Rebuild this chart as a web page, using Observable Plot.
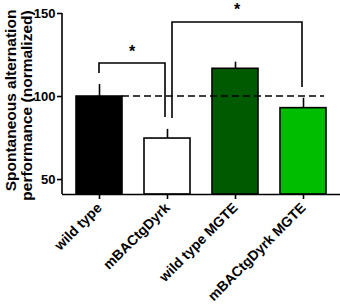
<!DOCTYPE html>
<html><head><meta charset="utf-8">
<script src="https://cdn.jsdelivr.net/npm/d3@7"></script>
<script src="https://cdn.jsdelivr.net/npm/@observablehq/plot@0.6"></script>
<style>body{margin:0;background:#fff;} #chart svg{display:block;}</style>
</head><body><div id="chart"></div>
<script>
const categories = ["wild type", "mBACtgDyrk", "wild type MGTE", "mBACtgDyrk MGTE"];
const means = [100, 74.7, 116.7, 93.0];
const errors = [7.2, 5.5, 4.0, 6.0];
const colors = ["#000000", "#ffffff", "#005a00", "#00bd00"];
const yDomain = [41, 150];
const yTicks = [50, 100, 150];
const referenceLevel = 100;
const yLabelLines = ["Spontaneous alternation", "performance (normalized)"];
const bracketFrom = ["wild type", "mBACtgDyrk"];
const bracketTo = ["mBACtgDyrk", "mBACtgDyrk MGTE"];
const bracketStart = [113.9, 86.8];
const bracketTop = [119.9, 144.6];
const bracketEnd = [87.4, 105.5];
const starLevel = [128.9, 154.3];
const starText = ["*", "*"];

const data = categories.map((c, i) => ({cat: c, mean: means[i], err: errors[i]}));
const brackets = bracketFrom.map((f, i) => ({from: f, to: bracketTo[i], yFrom: bracketStart[i], yTop: bracketTop[i], yTo: bracketEnd[i], starY: starLevel[i], star: starText[i]}));

const FONT = "'Liberation Sans', Arial, sans-serif";
const LW = 1.6;

function annotations(index, scales, values, dim) {
  const x = scales.x, y = scales.y;
  const bw = typeof x.bandwidth === "function" ? x.bandwidth() : x.bandwidth;
  const cx = c => x(c) + bw / 2;
  const nudge = [[0, -2], [5, -1]];
  const g = d3.create("svg:g");
  g.append("line")
    .attr("x1", dim.marginLeft).attr("x2", dim.marginLeft)
    .attr("y1", y(yDomain[1])).attr("y2", y(yDomain[0]))
    .attr("stroke", "black").attr("stroke-width", LW);
  g.append("line")
    .attr("x1", x(categories[0]) + bw).attr("x2", x(categories[categories.length - 1]) + bw - 2)
    .attr("y1", y(referenceLevel)).attr("y2", y(referenceLevel))
    .attr("stroke", "black").attr("stroke-width", LW).attr("stroke-dasharray", "7,4");
  brackets.forEach((b, i) => {
    const x1 = cx(b.from) + nudge[i][0], x2 = cx(b.to) + nudge[i][1];
    g.append("path")
      .attr("d", `M${x1},${y(b.yFrom)}V${y(b.yTop)}H${x2}V${y(b.yTo)}`)
      .attr("fill", "none").attr("stroke", "black").attr("stroke-width", LW);
    g.append("text")
      .attr("x", (x1 + x2) / 2).attr("y", y(b.starY)).attr("dy", "0.58em")
      .attr("text-anchor", "middle").attr("font-size", 16).attr("font-weight", "bold")
      .attr("font-family", FONT).attr("fill", "black")
      .text(b.star);
  });
  return g.node();
}

const chart = Plot.plot({
  width: 340,
  height: 304,
  marginLeft: 62,
  marginRight: 0,
  marginTop: 13,
  marginBottom: 110,
  style: {fontFamily: FONT, fontWeight: "bold", fontSize: "13px", background: "white", color: "black"},
  x: {domain: categories, paddingInner: 0.327, paddingOuter: 0.2, label: null},
  y: {domain: yDomain, label: null},
  color: {domain: categories, range: colors},
  marks: [
    Plot.barY(data, {x: "cat", y1: yDomain[0], y2: "mean", fill: "cat", stroke: "black", strokeWidth: LW}),
    Plot.ruleX(data, {x: "cat", y1: "mean", y2: d => d.mean + d.err, stroke: "black", strokeWidth: LW}),
    Plot.ruleY([yDomain[0]], {stroke: "black", strokeWidth: LW}),
    Plot.axisY({ticks: yTicks, tickSize: 5, tickPadding: 2, strokeWidth: LW, label: null, fontSize: 13, fontWeight: "bold"}),
    Plot.axisX({tickSize: 5, tickPadding: 6, tickRotate: -45, strokeWidth: LW, label: null, fontSize: 14, fontWeight: "bold"}),
    Plot.text([yLabelLines[0]], {frameAnchor: "left", textAnchor: "middle", text: d => d, rotate: -90, dx: -51, dy: -3.5, fontSize: 15.5, fontWeight: "bold"}),
    Plot.text([yLabelLines[1]], {frameAnchor: "left", textAnchor: "middle", text: d => d, rotate: -90, dx: -35, dy: 1.5, fontSize: 15.5, fontWeight: "bold"}),
    annotations
  ]
});
document.getElementById("chart").appendChild(chart);
</script>
</body></html>
